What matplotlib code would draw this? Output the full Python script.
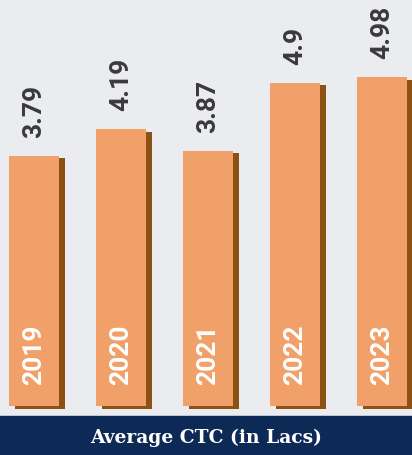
import matplotlib
matplotlib.use('Agg')
import matplotlib.pyplot as plt
import matplotlib.transforms as mtransforms
from matplotlib.patches import Rectangle

# data
years = ['2019', '2020', '2021', '2022', '2023']
avg_ctc = [3.79, 4.19, 3.87, 4.9, 4.98]
caption = 'Average CTC (in Lacs)'

bg = '#ebecef'
bar_col = '#f0a068'
side_col = '#8b5214'
navy = '#0c2a55'

fig = plt.figure(figsize=(4.12, 4.56), dpi=100, facecolor=bg)
ax = fig.add_axes([0, 49 / 456, 1, 407 / 456])
ax.set_facecolor(bg)

x = list(range(len(years)))
w = 50 / 87

# side face: same bars shifted right and down a few pixels
shift = mtransforms.ScaledTranslation(6 / 100, -2.5 / 100, fig.dpi_scale_trans)
ax.bar(x, avg_ctc, width=w, color=side_col, transform=ax.transData + shift,
       zorder=1, clip_on=False)
ax.bar(x, avg_ctc, width=w, color=bar_col, zorder=2)

for xi, v, yr in zip(x, avg_ctc, years):
    ax.annotate(f'{v:g}', (xi, v), xytext=(0, 19), textcoords='offset pixels',
                rotation=90, ha='center', va='bottom', fontsize=19,
                fontweight='bold', color='#3a3a3a', family='Roboto')
    ax.annotate(yr, (xi, 0), xytext=(0, 22), textcoords='offset pixels',
                rotation=90, ha='center', va='bottom', fontsize=19,
                fontweight='bold', color='white', family='Roboto',
                zorder=3)

ax.set_xlim(-34 / 87, 378 / 87)
ax.set_ylim(0, 407 / 66)
ax.axis('off')

# caption band at the bottom
fig.patches.append(Rectangle((0, 0), 1, 39 / 456, transform=fig.transFigure,
                             color=navy, zorder=0))
fig.text(0.5, 18 / 456, caption, ha='center', va='center', color='white',
         fontsize=13.5, fontweight='bold', family='DejaVu Serif')

fig.savefig('out.png', dpi=100, facecolor=bg)
